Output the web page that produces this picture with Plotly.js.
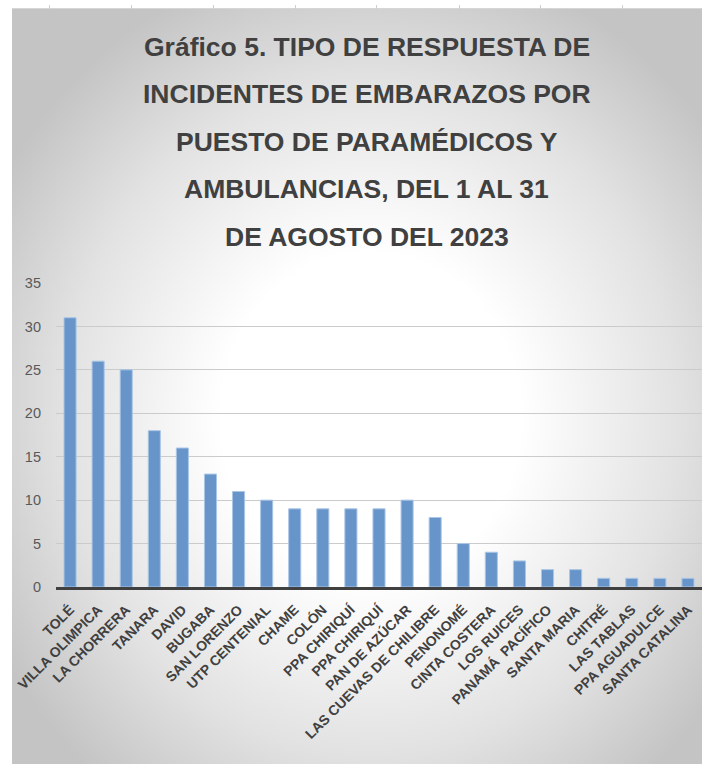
<!DOCTYPE html>
<html>
<head>
<meta charset="utf-8">
<script src="https://cdn.plot.ly/plotly-3.0.1.min.js"></script>
<style>
  html, body { margin: 0; padding: 0; background: #ffffff; }
  #wrap { position: relative; width: 702px; height: 765px; overflow: hidden; }
  #bg { position: absolute; left: 12px; top: 8px; width: 690px; height: 755px;
        background: radial-gradient(ellipse 62% 62% at 52% 54%, #ffffff 35%, #e2e2e2 72%, #c4c4c4 100%);
        border-top: 1px solid #d6d6d6; }
  #chart { position: absolute; left: 0; top: 0; width: 702px; height: 765px; }
  .rtick { position: absolute; top: 5px; width: 1px; height: 4px; background: #cfcfcf; }
</style>
</head>
<body>
<div id="wrap">
  <div id="bg"></div>
  <div class="rtick" style="left:49px"></div>
  <div class="rtick" style="left:131px"></div>
  <div class="rtick" style="left:213px"></div>
  <div class="rtick" style="left:295px"></div>
  <div class="rtick" style="left:376px"></div>
  <div class="rtick" style="left:459px"></div>
  <div class="rtick" style="left:540px"></div>
  <div class="rtick" style="left:622px"></div>
  <div id="chart"></div>
</div>
<script>
// ---- data ----
const categories = [
  "TOLÉ", "VILLA OLIMPICA", "LA CHORRERA", "TANARA", "DAVID", "BUGABA",
  "SAN LORENZO", "UTP CENTENIAL", "CHAME", "COLÓN", "PPA CHIRIQUÍ", "PPA CHIRIQUÍ ",
  "PAN DE AZÚCAR", "LAS CUEVAS DE CHILIBRE", "PENONOMÉ", "CINTA COSTERA",
  "LOS RUICES", "PANAMÁ  PACÍFICO", "SANTA MARIA", "CHITRÉ", "LAS TABLAS",
  "PPA AGUADULCE", "SANTA CATALINA"
];
const values = [31, 26, 25, 18, 16, 13, 11, 10, 9, 9, 9, 9, 10, 8, 5, 4, 3, 2, 2, 1, 1, 1, 1];
const yTickValues = [0, 5, 10, 15, 20, 25, 30, 35];
const titleLines = [
  "Gráfico 5. TIPO DE RESPUESTA DE",
  "INCIDENTES DE EMBARAZOS POR",
  "PUESTO DE PARAMÉDICOS Y",
  "AMBULANCIAS, DEL 1 AL 31",
  "DE AGOSTO DEL 2023"
];

// ---- layout helpers ----
const H = 765, mT = 283, mB = 178, plotH = H - mT - mB;
const firstLineY = 47, lineStep = 47.5;
const narrow = "Liberation Sans Narrow, Arial Narrow, sans-serif";
const titleAnnotations = titleLines.map((t, i) => ({
  text: "<b>" + t + "</b>",
  xref: "paper", yref: "paper",
  x: 0.481, y: (H - mB - (firstLineY + i * lineStep)) / plotH,
  xanchor: "center", yanchor: "middle",
  showarrow: false,
  font: { family: narrow, size: 26.5, color: "#404040" }
}));

const trace = {
  type: "bar",
  x: categories,
  y: values,
  marker: { color: "#6794c9", line: { color: "#aac6e6", width: 1 } },
  hoverinfo: "x+y"
};

const layout = {
  width: 702, height: 765,
  margin: { l: 56, r: 0, t: mT, b: mB, pad: 0 },
  paper_bgcolor: "rgba(0,0,0,0)",
  plot_bgcolor: "rgba(0,0,0,0)",
  showlegend: false,
  bargap: 0.57,
  annotations: titleAnnotations,
  xaxis: {
    type: "category",
    tickangle: -45,
    tickmode: "array",
    tickvals: categories,
    ticktext: categories.map(c => "<b>" + c.trim() + "</b>"),
    tickfont: { family: narrow, size: 14, color: "#404040", weight: 700 },
    ticklabelstandoff: 6,
    showgrid: false,
    showline: true, linecolor: "#404040", linewidth: 3,
    ticks: "",
    automargin: false
  },
  yaxis: {
    range: [0, 35],
    tickvals: yTickValues,
    tickfont: { family: "Liberation Sans, Arial, sans-serif", size: 14.5, color: "#595959" },
    showgrid: true, gridcolor: "#cbcbcb", gridwidth: 1,
    zeroline: false,
    showline: false,
    ticks: "",
    ticklabelstandoff: 14,
    automargin: false
  }
};

Plotly.newPlot("chart", [trace], layout, { displayModeBar: false, staticPlot: true });
</script>
</body>
</html>
